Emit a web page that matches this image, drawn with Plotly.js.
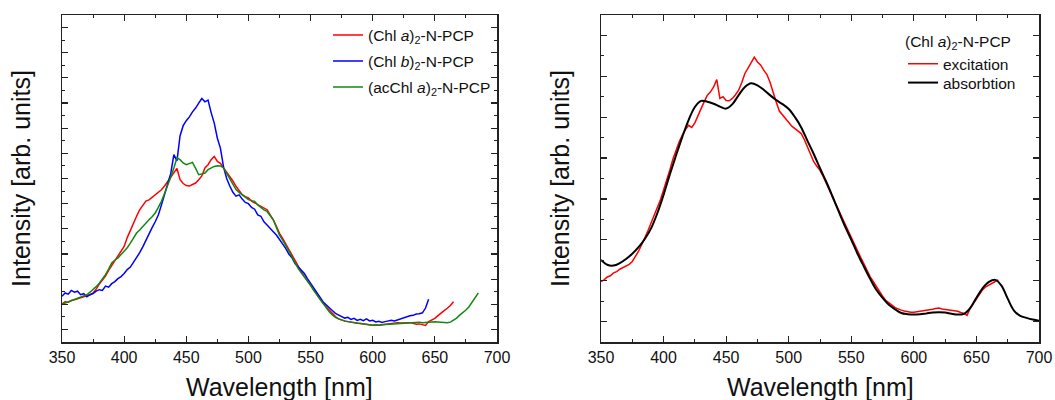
<!DOCTYPE html>
<html>
<head>
<meta charset="utf-8">
<script src="https://cdn.plot.ly/plotly-3.0.1.min.js"></script>
<style>
html,body{margin:0;padding:0;background:#fff;}
#chart{width:1055px;height:400px;}
</style>
</head>
<body>
<div id="chart"></div>
<script>
// Shared wavelength grid (nm), 2.5 nm step
const wl = [
 350,352.5,355,357.5,360,362.5,365,367.5,370,372.5,
 375,377.5,380,382.5,385,387.5,390,392.5,395,397.5,
 400,402.5,405,407.5,410,412.5,415,417.5,420,422.5,
 425,427.5,430,432.5,435,437.5,440,442.5,445,447.5,
 450,452.5,455,457.5,460,462.5,465,467.5,470,472.5,
 475,477.5,480,482.5,485,487.5,490,492.5,495,497.5,
 500,502.5,505,507.5,510,512.5,515,517.5,520,522.5,
 525,527.5,530,532.5,535,537.5,540,542.5,545,547.5,
 550,552.5,555,557.5,560,562.5,565,567.5,570,572.5,
 575,577.5,580,582.5,585,587.5,590,592.5,595,597.5,
 600,602.5,605,607.5,610,612.5,615,617.5,620,622.5,
 625,627.5,630,632.5,635,637.5,640,642.5,645,647.5,
 650,652.5,655,657.5,660,662.5,665,667.5,670,672.5,
 675,677.5,680,682.5,685
];

// Left panel: emission spectra (arb. units)
const chlA = [
 1.02,1.10,1.08,1.15,1.18,1.22,1.25,1.30,1.35,1.38,
 1.45,1.60,1.80,1.95,2.12,2.35,2.55,2.75,2.95,3.10,
 3.30,3.65,3.95,4.25,4.50,4.75,4.95,5.10,5.15,5.25,
 5.35,5.42,5.55,5.70,5.88,6.05,6.22,6.40,5.95,5.80,
 5.72,5.70,5.76,5.82,5.95,6.10,6.42,6.55,6.75,6.88,
 6.68,6.60,6.42,6.25,6.09,5.90,5.69,5.50,5.36,5.28,
 5.23,5.10,5.03,4.98,4.92,4.85,4.76,4.55,4.36,4.10,
 3.82,3.62,3.42,3.18,2.96,2.72,2.49,2.30,2.10,1.92,
 1.76,1.55,1.37,1.20,1.04,0.90,0.77,0.62,0.51,0.42,
 0.37,0.33,0.31,0.28,0.27,0.25,0.24,0.22,0.20,0.19,
 0.17,0.18,0.17,0.19,0.21,0.22,0.24,0.25,0.27,0.26,
 0.27,0.28,0.27,0.24,0.21,0.22,0.20,0.16,0.31,0.38,
 0.44,0.55,0.66,0.75,0.84,0.95,1.10
];
const chlB = [
 1.32,1.45,1.40,1.55,1.48,1.52,1.38,1.42,1.30,1.38,
 1.42,1.52,1.58,1.55,1.72,1.68,1.82,1.90,2.02,2.10,
 2.22,2.38,2.48,2.66,2.88,3.05,3.28,3.55,3.80,4.05,
 4.28,4.55,4.95,5.35,5.80,6.20,6.95,6.70,7.70,8.10,
 8.30,8.45,8.65,8.80,9.00,9.18,9.05,9.12,8.62,8.20,
 7.60,7.20,6.45,6.00,5.70,5.45,5.30,5.35,5.18,5.05,
 5.00,4.85,4.78,4.55,4.50,4.28,4.15,4.00,3.88,3.75,
 3.58,3.40,3.22,3.00,2.85,2.62,2.50,2.35,2.22,2.02,
 1.83,1.62,1.45,1.25,1.10,0.98,0.88,0.75,0.64,0.58,
 0.53,0.45,0.48,0.40,0.44,0.36,0.40,0.35,0.42,0.34,
 0.36,0.30,0.32,0.28,0.31,0.33,0.36,0.34,0.38,0.42,
 0.48,0.50,0.54,0.56,0.61,0.62,0.66,0.85,1.20
];
const acChlA = [
 1.00,1.05,1.10,1.12,1.18,1.22,1.28,1.32,1.38,1.48,
 1.58,1.70,1.84,2.00,2.18,2.40,2.64,2.75,2.84,2.98,
 3.10,3.25,3.43,3.62,3.83,3.95,4.10,4.22,4.36,4.48,
 4.63,4.85,5.09,5.40,5.69,6.05,6.42,6.82,6.75,6.62,
 6.55,6.60,6.64,6.40,6.15,6.18,6.22,6.35,6.42,6.48,
 6.51,6.50,6.42,6.20,5.95,5.75,5.56,5.45,5.36,5.25,
 5.16,5.12,5.09,4.95,4.83,4.75,4.69,4.52,4.36,4.05,
 3.75,3.55,3.35,3.12,2.89,2.65,2.43,2.25,2.10,1.92,
 1.76,1.55,1.37,1.20,1.04,0.86,0.70,0.58,0.48,0.42,
 0.37,0.34,0.31,0.29,0.27,0.25,0.24,0.22,0.21,0.19,
 0.17,0.18,0.17,0.19,0.20,0.20,0.21,0.23,0.24,0.23,
 0.24,0.26,0.27,0.26,0.28,0.29,0.27,0.29,0.31,0.30,
 0.31,0.29,0.27,0.28,0.27,0.29,0.37,0.45,0.57,0.66,
 0.77,0.90,1.10,1.30,1.45
];

// Right panel: excitation (noisy) and absorption (smooth)
const excitation = [
 0.98,1.02,1.09,1.12,1.19,1.22,1.28,1.32,1.35,1.40,
 1.47,1.58,1.72,1.88,2.04,2.22,2.41,2.60,2.77,2.98,
 3.22,3.45,3.71,3.98,4.20,4.40,4.56,4.70,4.80,4.75,
 4.86,5.05,5.21,5.38,5.54,5.62,5.74,5.92,5.46,5.50,
 5.41,5.40,5.46,5.55,5.66,5.85,6.07,6.20,6.35,6.47,
 6.35,6.28,6.15,6.05,5.86,5.60,5.37,5.15,5.05,4.95,
 4.85,4.78,4.72,4.65,4.60,4.45,4.28,4.10,3.91,3.80,
 3.70,3.55,3.40,3.22,3.05,2.90,2.72,2.55,2.38,2.22,
 2.05,1.88,1.72,1.57,1.42,1.25,1.10,0.98,0.85,0.72,
 0.62,0.52,0.45,0.40,0.34,0.30,0.28,0.26,0.24,0.23,
 0.23,0.24,0.25,0.26,0.27,0.29,0.30,0.32,0.33,0.31,
 0.30,0.28,0.27,0.26,0.25,0.22,0.20,0.15,0.32,0.44,
 0.55,0.68,0.78,0.85,0.90,0.95,0.98,1.02
];
const absWl = [
 350,355,360,365,370,375,380,385,390,395,
 400,405,410,415,420,425,430,435,440,445,
 450,455,460,465,470,475,480,485,490,495,
 500,505,510,515,520,525,530,535,540,545,
 550,555,560,565,570,575,580,585,590,595,
 600,605,610,615,620,625,630,635,640,645,
 650,655,660,665,670,675,680,685,690,695,700
];
const absorption = [
 1.51,1.39,1.37,1.43,1.53,1.66,1.82,2.02,2.28,2.65,
 3.10,3.60,4.07,4.52,4.93,5.25,5.40,5.38,5.33,5.26,
 5.21,5.32,5.54,5.74,5.83,5.78,5.67,5.54,5.42,5.32,
 5.20,5.00,4.75,4.42,4.10,3.75,3.42,3.06,2.69,2.33,
 2.00,1.66,1.35,1.05,0.78,0.58,0.41,0.30,0.21,0.18,
 0.17,0.18,0.20,0.22,0.23,0.22,0.19,0.17,0.19,0.33,
 0.58,0.82,0.97,1.02,0.88,0.56,0.27,0.14,0.09,0.05,0.02
];

const xTicks = [350,400,450,500,550,600,650,700];
const xLabels = ['350','400','450','500','550','600','650','700'];
const xTitle = 'Wavelength [nm]';
const yTitle = 'Intensity [arb. units]';
const namesLeft = ['(Chl <i>a</i>)<sub>2</sub>-N-PCP','(Chl <i>b</i>)<sub>2</sub>-N-PCP','(acChl <i>a</i>)<sub>2</sub>-N-PCP'];
const namesRight = ['excitation','absorbtion'];
const legend2Title = '(Chl <i>a</i>)<sub>2</sub>-N-PCP';

const FONT = 'Liberation Sans, Arial, sans-serif';

const traces = [
  {x: wl.slice(0, chlA.length), y: chlA, name: namesLeft[0], type:'scatter', mode:'lines',
   line:{color:'#ff0000', width:1.5}, xaxis:'x', yaxis:'y', legend:'legend'},
  {x: wl.slice(0, chlB.length), y: chlB, name: namesLeft[1], type:'scatter', mode:'lines',
   line:{color:'#0000ff', width:1.5}, xaxis:'x', yaxis:'y', legend:'legend3'},
  {x: wl.slice(0, acChlA.length), y: acChlA, name: namesLeft[2], type:'scatter', mode:'lines',
   line:{color:'#118811', width:1.5}, xaxis:'x', yaxis:'y', legend:'legend4'},
  {x: wl.slice(0, excitation.length), y: excitation, name: namesRight[0], type:'scatter', mode:'lines',
   line:{color:'#ff0000', width:1.5}, xaxis:'x2', yaxis:'y2', legend:'legend2'},
  {x: absWl, y: absorption, name: namesRight[1], type:'scatter', mode:'lines',
   line:{color:'#000000', width:2, shape:'spline', smoothing:1}, xaxis:'x2', yaxis:'y2', legend:'legend5'}
];

function xAxis(domain){
  return {
    domain: domain, range:[350,700], tickvals: xTicks, ticktext: xLabels,
    ticks:'inside', ticklen:6, tickwidth:1.2, tickcolor:'#222',
    minor:{ticks:'inside', ticklen:3, tickwidth:1, tickcolor:'#222', dtick:25, tick0:350, showgrid:false},
    showline:true, linecolor:'#222', linewidth:1.5, mirror:'allticks',
    showgrid:false, zeroline:false,
    tickfont:{family:FONT, size:16, color:'#111'},
    automargin:false, fixedrange:true
  };
}
function yAxis(range, anchor){
  return {
    domain:[0.145, 0.9625], range: range, anchor: anchor, dtick:1, tick0:0,
    ticks:'inside', ticklen:6, tickwidth:1.2, tickcolor:'#222',
    minor:{ticks:'inside', ticklen:3, tickwidth:1, tickcolor:'#222', dtick:0.5, tick0:0, showgrid:false},
    showticklabels:false,
    showline:true, linecolor:'#222', linewidth:1.5, mirror:'allticks',
    showgrid:false, zeroline:false,
    title:{text:yTitle, font:{family:FONT, size:25, color:'#111'}, standoff:23},
    automargin:false, fixedrange:true
  };
}

function leg(xpx, ypx){
  return {x:xpx/1055, y:1-ypx/400, xanchor:'left', yanchor:'top',
    bgcolor:'rgba(0,0,0,0)', borderwidth:0, font:{family:FONT, size:15.5, color:'#111'}};
}
function xTitleAnn(xref){
  return {text:xTitle, xref:xref, x:0.5, xanchor:'center', yref:'paper', y:1-370.5/400, yanchor:'top',
    showarrow:false, font:{family:FONT, size:25, color:'#111'}};
}

const layout = {
  width:1055, height:400,
  margin:{l:0, r:0, t:0, b:0, pad:0},
  paper_bgcolor:'#ffffff', plot_bgcolor:'#ffffff',
  font:{family:FONT, color:'#111'},
  showlegend:true,
  xaxis: Object.assign(xAxis([62/1055, 497/1055]), {anchor:'y'}),
  yaxis: yAxis([-0.5, 12.5], 'x'),
  xaxis2: Object.assign(xAxis([601/1055, 1039/1055]), {anchor:'y2'}),
  yaxis2: yAxis([-0.5, 7.5], 'x2'),
  legend: leg(328, 18.5),
  legend3: leg(328, 44.5),
  legend4: leg(328, 70.5),
  legend2: Object.assign(leg(903, 27), {title:{text:legend2Title, side:'top', font:{family:FONT, size:15.5, color:'#111'}}}),
  legend5: leg(903, 66),
  annotations: [xTitleAnn('x domain'), xTitleAnn('x2 domain')]
};

Plotly.newPlot('chart', traces, layout, {staticPlot:true, displayModeBar:false});
</script>
</body>
</html>
